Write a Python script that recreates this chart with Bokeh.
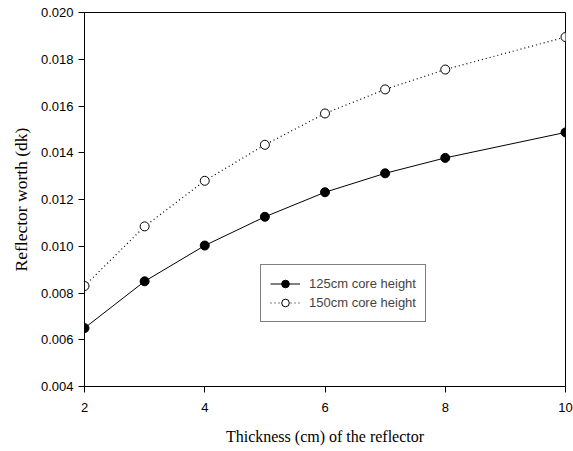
from bokeh.plotting import figure
from bokeh.models import Range1d, FixedTicker, Legend, LegendItem, PrintfTickFormatter
from bokeh.embed import file_html
from bokeh.resources import INLINE

thickness = [2, 3, 4, 5, 6, 7, 8, 10]
worth_125 = [0.00650, 0.00850, 0.01003, 0.01126, 0.01231, 0.01312, 0.01378, 0.01487]
worth_150 = [0.00830, 0.01085, 0.01280, 0.01434, 0.01568, 0.01671, 0.01756, 0.01895]
label_125 = "125cm core height"
label_150 = "150cm core height"
x_ticks = [2, 4, 6, 8, 10]
y_ticks = [0.004, 0.006, 0.008, 0.010, 0.012, 0.014, 0.016, 0.018, 0.020]

W, H = 573, 451
BL, BR, BT, BB = 84, 8, 12, 65
X0, X1, Y0, Y1 = 2, 10, 0.004, 0.020
TICK = 6

p = figure(width=W, height=H, output_backend="svg", toolbar_location=None,
           x_range=Range1d(X0, X1), y_range=Range1d(Y0, Y1),
           min_border_left=BL, min_border_right=BR, min_border_top=BT, min_border_bottom=BB)
p.background_fill_color = "white"
p.border_fill_color = "white"
p.outline_line_color = "black"
p.outline_line_width = 1
p.xgrid.visible = False
p.ygrid.visible = False

for ax in (p.xaxis[0], p.yaxis[0]):
    ax.axis_line_color = "black"
    ax.axis_line_width = 1
    ax.major_tick_line_color = "black"
    ax.major_tick_line_width = 1
    ax.minor_tick_line_color = None
    ax.major_tick_out = TICK
    ax.major_tick_in = 0
    ax.major_label_text_font = "Liberation Sans"
    ax.major_label_text_font_size = "13px"
    ax.major_label_text_color = "black"
    ax.axis_label_text_font = "Liberation Serif"
    ax.axis_label_text_font_style = "normal"
    ax.axis_label_text_color = "black"

p.xaxis.ticker = FixedTicker(ticks=x_ticks, minor_ticks=[])
p.yaxis.ticker = FixedTicker(ticks=y_ticks, minor_ticks=[])
p.yaxis.formatter = PrintfTickFormatter(format="%.3f")
p.xaxis.major_label_standoff = 10
p.yaxis.major_label_standoff = 5
p.xaxis.axis_label = "Thickness (cm) of the reflector"
p.yaxis.axis_label = "Reflector worth (dk)"
p.xaxis.axis_label_text_font_size = "16px"
p.yaxis.axis_label_text_font_size = "17.5px"
p.xaxis.axis_label_standoff = 13
p.yaxis.axis_label_standoff = 7

# outward tick marks, drawn from the tick arrays through the data scales
dx = TICK * (X1 - X0) / (W - BL - BR)
dy = TICK * (Y1 - Y0) / (H - BT - BB)
p.segment(x0=[X0 - dx] * len(y_ticks), y0=y_ticks, x1=[X0] * len(y_ticks), y1=y_ticks,
          line_color="black", line_width=1)
p.segment(x0=x_ticks, y0=[Y0 - dy] * len(x_ticks), x1=x_ticks, y1=[Y0] * len(x_ticks),
          line_color="black", line_width=1)

l1 = p.line(thickness, worth_125, line_color="black", line_width=1)
m1 = p.scatter(thickness, worth_125, marker="circle", size=9, fill_color="black", line_color="black")
l2 = p.line(thickness, worth_150, line_color="black", line_width=1.2, line_dash="1 3")
m2 = p.scatter(thickness, worth_150, marker="circle", size=9, fill_color="white", line_color="black")

legend = Legend(items=[LegendItem(label=label_125, renderers=[l1, m1]),
                       LegendItem(label=label_150, renderers=[l2, m2])],
                location=(176, 64), padding=9, spacing=0, margin=0,
                glyph_width=30, glyph_height=19, label_height=19, label_standoff=9,
                label_text_font="Liberation Sans", label_text_font_size="13px",
                border_line_color="black", border_line_width=1,
                background_fill_color="white", background_fill_alpha=1.0)
p.add_layout(legend, "center")

open("out.html", "w").write(file_html(p, INLINE))
